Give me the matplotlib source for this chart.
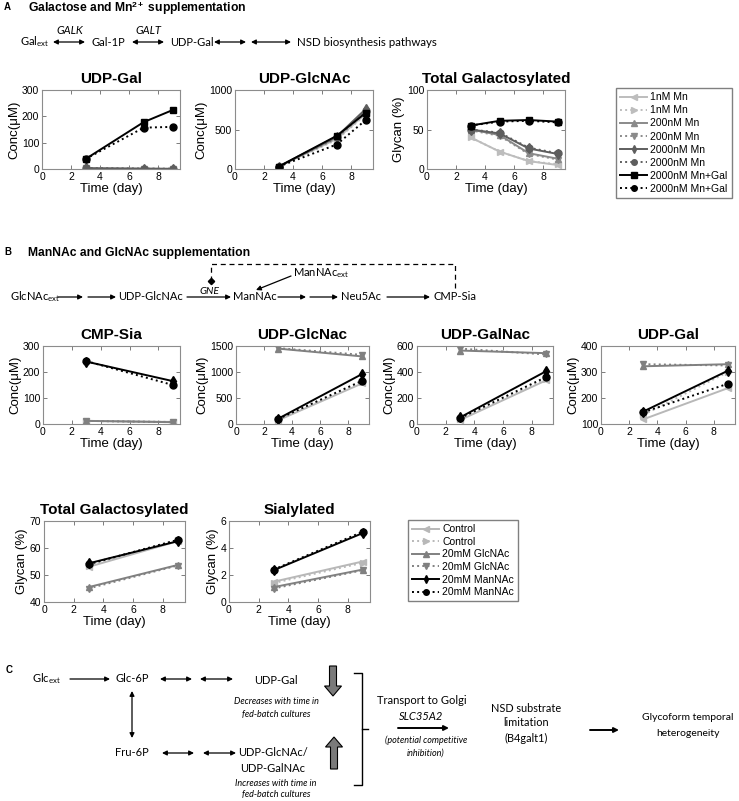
import numpy as np
import matplotlib
matplotlib.use('Agg')
import matplotlib.pyplot as plt
from matplotlib.lines import Line2D
from matplotlib.patches import FancyArrow

plt.rcParams['font.family'] = ['Liberation Sans', 'DejaVu Sans']
plt.rcParams['mathtext.fontset'] = 'custom'
plt.rcParams['mathtext.rm'] = 'Lato'
plt.rcParams['mathtext.it'] = 'Lato:italic'
plt.rcParams['mathtext.bf'] = 'Liberation Sans:bold'

# ---- data: panel A (Galactose / Mn) ----
days_a = [3, 7, 9]
days_a_glyc = [3, 5, 7, 9]
labels_a = ['1nM Mn', '1nM Mn', '200nM Mn', '200nM Mn',
            '2000nM Mn', '2000nM Mn', '2000nM Mn+Gal', '2000nM Mn+Gal']
udp_gal_a = [[2, 1, 0], [2, 1, 0], [2, 1, 0], [2, 1, 0],
             [3, 1, 1], [3, 1, 1], [38, 178, 224], [38, 157, 160]]
udp_glcnac_a = [[30, 380, 700], [30, 370, 690], [30, 400, 740], [30, 390, 720],
                [30, 410, 760], [30, 400, 730], [30, 420, 710], [30, 310, 620]]
tot_gal_a = [[40, 22, 10, 5], [40, 22, 10, 6], [50, 43, 20, 13], [49, 42, 19, 12],
             [50, 45, 26, 19], [50, 46, 27, 20], [55, 61, 62, 60], [55, 60, 61, 59]]

# ---- data: panel B (ManNAc / GlcNAc) ----
days_b = [3, 9]
labels_b = ['Control', 'Control', '20mM GlcNAc', '20mM GlcNAc',
            '20mM ManNAc', '20mM ManNAc']
cmp_sia_b = [[12, 8], [12, 8], [12, 7], [12, 7], [240, 165], [242, 150]]
udp_glcnac_b = [[70, 780], [80, 800], [1450, 1300], [1460, 1330], [100, 960], [95, 830]]
udp_galnac_b = [[30, 335], [35, 345], [565, 545], [580, 535], [50, 405], [45, 360]]
udp_gal_b = [[118, 238], [135, 300], [322, 330], [330, 325], [148, 305], [145, 255]]
tot_gal_b = [[53, 62.5], [53.5, 63], [45.5, 53.7], [45, 53.5], [54.3, 62.5], [54, 63]]
sial_b = [[1.5, 3.0], [1.4, 2.9], [1.1, 2.4], [1.0, 2.35], [2.35, 5.1], [2.4, 5.2]]

# styles
col_a = ['#bdbdbd', '#bdbdbd', '#8a8a8a', '#8a8a8a', '#5e5e5e', '#5e5e5e', 'black', 'black']
ls_a = ['-', ':', '-', ':', '-', ':', '-', ':']
mk_a = ['<', '>', '^', 'v', 'd', 'o', 's', 'o']
col_b = ['#b8b8b8', '#b8b8b8', '#808080', '#808080', 'black', 'black']
ls_b = ['-', ':', '-', ':', '-', ':']
mk_b = ['<', '>', '^', 'v', 'd', 'o']

W, H = 739, 801
fig = plt.figure(figsize=(W / 100, H / 100), dpi=100)

# overlay axes in pixel coords for the pathway diagrams
ov = fig.add_axes([0, 0, 1, 1], zorder=0)
ov.set_xlim(0, W)
ov.set_ylim(H, 0)
ov.axis('off')


def px_axes(x0, y0, x1, y1):
    return fig.add_axes([x0 / W, 1 - y1 / H, (x1 - x0) / W, (y1 - y0) / H])


def style(ax, title, ylim, yticks, ylabel):
    ax.set_xlim(0, 9.5)
    ax.set_xticks([0, 2, 4, 6, 8])
    ax.set_ylim(*ylim)
    ax.set_yticks(yticks)
    ax.tick_params(direction='in', top=True, right=True, length=3, width=0.6,
                   labelsize=7.5, pad=2, color='#666666')
    for s in ax.spines.values():
        s.set_color('#8c8c8c')
        s.set_linewidth(0.8)
    ax.set_title(title, fontsize=11, fontweight='bold', pad=5)
    ax.set_xlabel('Time (day)', fontsize=9.5, labelpad=1)
    ax.set_ylabel(ylabel, fontsize=9.5, labelpad=1)


def draw(ax, days, series, cols, lss, mks):
    for vals, c, ls, m in zip(series, cols, lss, mks):
        ax.plot(days, vals, color=c, linestyle=ls, marker=m, markersize=5,
                linewidth=1.4, markerfacecolor=c, markeredgecolor=c)


def arr(x0, y0, x1, y1, style='-|>', lw=0.9):
    ov.annotate('', xy=(x1, y1), xytext=(x0, y0),
                arrowprops=dict(arrowstyle=style, color='black', lw=lw,
                                mutation_scale=7, shrinkA=0, shrinkB=0))


def txt(x, y, s, size=8, ha='left', style='normal', weight='normal', family='Lato'):
    ov.text(x, y, s, fontsize=size, ha=ha, va='center', style=style,
            fontweight=weight, family=family)


# ---------------- panel A ----------------
txt(4, 7, 'A', size=7, weight='bold', family='Liberation Sans')
txt(28, 8, r'Galactose and Mn$^{\mathbf{2+}}$ supplementation', size=8.7,
    weight='bold', family='Liberation Sans')
txt(20, 42, r'Gal$_{\mathrm{ext}}$')
arr(53, 42, 85, 42, '<|-|>')
txt(70, 31, 'GALK', ha='center', style='italic')
txt(92, 42, 'Gal-1P')
arr(132, 42, 164, 42, '<|-|>')
txt(148, 31, 'GALT', ha='center', style='italic')
txt(170, 42, 'UDP-Gal')
arr(214, 42, 246, 42, '<|-|>')
arr(251, 42, 291, 42, '<|-|>')
txt(297, 42, 'NSD biosynthesis pathways', size=8.3)

ax = px_axes(42, 90, 180, 169)
draw(ax, days_a, udp_gal_a, col_a, ls_a, mk_a)
style(ax, 'UDP-Gal', (0, 300), [0, 100, 200, 300], 'Conc(\u03bcM)')

ax = px_axes(235, 90, 373, 169)
draw(ax, days_a, udp_glcnac_a, col_a, ls_a, mk_a)
style(ax, 'UDP-GlcNAc', (0, 1000), [0, 500, 1000], 'Conc(\u03bcM)')

ax = px_axes(427, 90, 565, 169)
draw(ax, days_a_glyc, tot_gal_a, col_a, ls_a, mk_a)
style(ax, 'Total Galactosylated', (0, 100), [0, 50, 100], 'Glycan (%)')

h_a = [Line2D([], [], color=c, linestyle=ls, marker=m, markersize=4, linewidth=1.4,
              markerfacecolor=c, markeredgecolor=c)
       for c, ls, m in zip(col_a, ls_a, mk_a)]
fig.legend(h_a, labels_a, loc='upper left', bbox_to_anchor=(616 / W, 1 - 88 / H),
           fontsize=7.5, handlelength=2.6, handletextpad=0.3, labelspacing=0.3,
           borderpad=0.4, borderaxespad=0, fancybox=False, edgecolor='#808080',
           framealpha=1)

# ---------------- panel B ----------------
txt(4, 252, 'B', size=7, weight='bold', family='Liberation Sans')
txt(28, 253, 'ManNAc and GlcNAc supplementation', size=8.7, weight='bold',
    family='Liberation Sans')
txt(10, 297, r'GlcNAc$_{\mathrm{ext}}$')
arr(58, 297, 83, 297)
arr(88, 297, 116, 297)
txt(118, 297, 'UDP-GlcNAc')
arr(187, 297, 231, 297)
txt(209, 292, 'GNE', ha='center', style='italic', size=7.5)
txt(233, 297, 'ManNAc')
arr(278, 297, 306, 297)
arr(310, 297, 338, 297)
txt(341, 297, 'Neu5Ac')
arr(387, 297, 430, 297)
txt(434, 297, 'CMP-Sia')
txt(293, 273, r'ManNAc$_{\mathrm{ext}}$')
arr(291, 276, 256, 290)
ov.plot([455, 455, 211, 211], [288, 264, 264, 281], color='black', lw=0.9,
        linestyle=(0, (4, 3)))
ov.plot([211], [281], marker='D', color='black', markersize=3.2)

ax = px_axes(43, 346, 180, 424)
draw(ax, days_b, cmp_sia_b, col_b, ls_b, mk_b)
style(ax, 'CMP-Sia', (0, 300), [0, 100, 200, 300], 'Conc(\u03bcM)')

ax = px_axes(236, 346, 369, 424)
draw(ax, days_b, udp_glcnac_b, col_b, ls_b, mk_b)
style(ax, 'UDP-GlcNac', (0, 1500), [0, 500, 1000, 1500], 'Conc(\u03bcM)')

ax = px_axes(417, 346, 553, 424)
draw(ax, days_b, udp_galnac_b, col_b, ls_b, mk_b)
style(ax, 'UDP-GalNac', (0, 600), [0, 200, 400, 600], 'Conc(\u03bcM)')

ax = px_axes(601, 346, 735, 424)
draw(ax, days_b, udp_gal_b, col_b, ls_b, mk_b)
style(ax, 'UDP-Gal', (100, 400), [100, 200, 300, 400], 'Conc(\u03bcM)')

ax = px_axes(44, 521, 185, 602)
draw(ax, days_b, tot_gal_b, col_b, ls_b, mk_b)
style(ax, 'Total Galactosylated', (40, 70), [40, 50, 60, 70], 'Glycan (%)')

ax = px_axes(229, 521, 370, 602)
draw(ax, days_b, sial_b, col_b, ls_b, mk_b)
style(ax, 'Sialylated', (0, 6), [0, 2, 4, 6], 'Glycan (%)')

h_b = [Line2D([], [], color=c, linestyle=ls, marker=m, markersize=4, linewidth=1.4,
              markerfacecolor=c, markeredgecolor=c)
       for c, ls, m in zip(col_b, ls_b, mk_b)]
fig.legend(h_b, labels_b, loc='upper left', bbox_to_anchor=(408 / W, 1 - 520 / H),
           fontsize=7.5, handlelength=2.6, handletextpad=0.3, labelspacing=0.25,
           borderpad=0.4, borderaxespad=0, fancybox=False, edgecolor='#808080',
           framealpha=1)

# ---------------- panel C ----------------
txt(6, 670, 'C', size=7, weight='bold', family='Liberation Sans')
txt(32, 679, r'Glc$_{\mathrm{ext}}$')
arr(70, 679, 110, 679)
txt(132, 679, 'Glc-6P', ha='center')
arr(160, 679, 192, 679, '<|-|>')
arr(200, 679, 233, 679, '<|-|>')
txt(276, 680, 'UDP-Gal', ha='center')
txt(276, 701, 'Decreases with time in', size=6.5, ha='center', style='italic')
txt(276, 714, 'fed-batch cultures', size=6.5, ha='center', style='italic')
arr(132, 691, 132, 738, '<|-|>')
txt(132, 753, 'Fru-6P', ha='center')
arr(162, 753, 194, 753, '<|-|>')
arr(203, 753, 236, 753, '<|-|>')
txt(273, 753, 'UDP-GlcNAc/', ha='center')
txt(273, 768, 'UDP-GalNAc', ha='center')
txt(276, 783, 'Increases with time in', size=6.5, ha='center', style='italic')
txt(276, 795, 'fed-batch cultures', size=6.5, ha='center', style='italic')
ov.add_patch(FancyArrow(333, 666, 0, 30, width=7, head_width=17, head_length=10,
                        length_includes_head=True, fc='#7a7a7a', ec='black', lw=0.8))
ov.add_patch(FancyArrow(334, 769, 0, -32, width=7, head_width=17, head_length=10,
                        length_includes_head=True, fc='#7a7a7a', ec='black', lw=0.8))
ov.plot([354, 362, 362, 354], [673, 673, 785, 785], color='black', lw=1)
ov.plot([362, 368], [729, 729], color='black', lw=1)
txt(422, 701, 'Transport to Golgi', ha='center')
txt(421, 717, 'SLC35A2', ha='center', style='italic')
arr(398, 728, 449, 728, '-|>', lw=1.4)
txt(426, 740, '(potential competitive', size=6.5, ha='center', style='italic')
txt(426, 753, 'inhibition)', size=6.5, ha='center', style='italic')
txt(526, 708, 'NSD substrate', size=7.8, ha='center')
txt(526, 723, 'limitation', size=7.8, ha='center')
txt(526, 738, '(B4galt1)', size=7.8, ha='center')
arr(590, 730, 619, 730, '-|>', lw=1.4)
txt(688, 718, 'Glycoform temporal', size=7.5, ha='center')
txt(688, 733, 'heterogeneity', size=7.5, ha='center')

fig.savefig('out.png', dpi=100)
